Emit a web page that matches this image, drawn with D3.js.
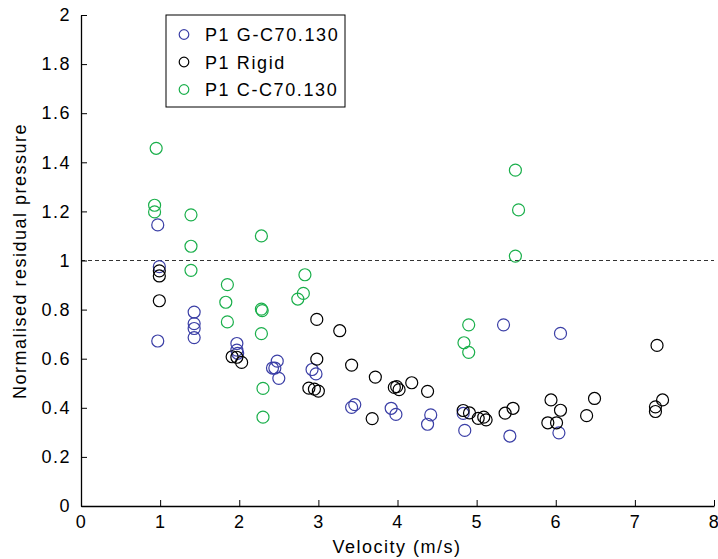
<!DOCTYPE html>
<html>
<head>
<meta charset="utf-8">
<script src="https://cdn.jsdelivr.net/npm/d3@7"></script>
<style>
  body { margin: 0; background: #fff; }
  svg { font-family: "Liberation Sans", Arial, sans-serif; }
</style>
</head>
<body>
<svg id="chart" width="718" height="559"></svg>
<script>
const seriesNames = ['P1 G-C70.130', 'P1 Rigid', 'P1 C-C70.130']
const seriesColors = ['#3b3fa6', '#000000', '#1aaf4b']

// velocity (m/s), normalised residual pressure
const gVel = [0.97, 0.99, 1.43, 1.43, 1.43, 1.43, 0.97, 1.97, 1.97, 1.98, 2.48, 2.42, 2.45, 2.50,
	2.92, 2.97, 3.42, 3.46, 3.92, 3.98, 4.42, 4.38, 4.83, 4.85, 5.34, 5.42, 6.06, 6.04]
const gPres = [1.145, 0.975, 0.79, 0.743, 0.723, 0.686, 0.672, 0.662, 0.635, 0.622, 0.590, 0.562, 0.562, 0.520,
	0.556, 0.538, 0.402, 0.413, 0.398, 0.373, 0.371, 0.333, 0.377, 0.308, 0.738, 0.285, 0.703, 0.298]

const rVel = [0.99, 0.99, 0.99, 2.98, 3.27, 2.98, 3.42, 1.91, 1.97, 2.03, 2.88, 2.95, 3.00,
	3.72, 3.68, 3.96, 3.99, 4.02, 4.18, 4.38, 4.83, 4.91, 5.02, 5.09, 5.12, 5.36, 5.46,
	5.94, 6.06, 5.90, 6.01, 6.49, 6.39, 7.28, 7.35, 7.26, 7.26]
const rPres = [0.958, 0.937, 0.836, 0.760, 0.714, 0.598, 0.574, 0.608, 0.606, 0.585, 0.480, 0.476, 0.468,
	0.525, 0.356, 0.483, 0.486, 0.474, 0.502, 0.467, 0.389, 0.379, 0.357, 0.362, 0.351, 0.378, 0.398,
	0.432, 0.390, 0.339, 0.339, 0.438, 0.368, 0.654, 0.432, 0.404, 0.385]

const cVel = [0.95, 0.93, 0.93, 1.39, 1.39, 2.28, 1.39, 2.83, 1.85, 2.81, 2.74, 1.83, 2.28, 2.29,
	1.85, 2.28, 2.30, 2.30, 4.90, 4.84, 4.90, 5.49, 5.53, 5.49]
const cPres = [1.457, 1.225, 1.198, 1.186, 1.058, 1.100, 0.960, 0.942, 0.902, 0.866, 0.843, 0.830, 0.802, 0.796,
	0.750, 0.702, 0.479, 0.362, 0.738, 0.665, 0.626, 1.368, 1.206, 1.018]

const xTicks = [0, 1, 2, 3, 4, 5, 6, 7, 8]
const yTicks = [0, 0.2, 0.4, 0.6, 0.8, 1, 1.2, 1.4, 1.6, 1.8, 2]

const series = [
	{ name: seriesNames[0], color: seriesColors[0], pts: gVel.map((v, i) => [v, gPres[i]]) },
	{ name: seriesNames[1], color: seriesColors[1], pts: rVel.map((v, i) => [v, rPres[i]]) },
	{ name: seriesNames[2], color: seriesColors[2], pts: cVel.map((v, i) => [v, cPres[i]]) }
]

const margin = { left: 81, right: 4, top: 15, bottom: 53 }
const width = 718, height = 559
const fontSize = 18, spacing = 1.5

const svg = d3.select('#chart')

const x = d3.scaleLinear().domain([0, 8]).range([margin.left, width - margin.right])
const y = d3.scaleLinear().domain([0, 2]).range([height - margin.bottom, margin.top])

// reference line at 1
svg.append('line')
	.attr('x1', x(0)).attr('x2', x(8))
	.attr('y1', y(1)).attr('y2', y(1))
	.attr('stroke', '#333')
	.attr('stroke-width', 1)
	.attr('stroke-dasharray', '4,3')

// points
series.forEach(s => {
	svg.append('g')
		.selectAll('circle')
		.data(s.pts)
		.enter()
		.append('circle')
		.attr('cx', d => x(d[0]))
		.attr('cy', d => y(d[1]))
		.attr('r', 6)
		.attr('fill', 'none')
		.attr('stroke', s.color)
		.attr('stroke-width', 1.2)
})

// axes
const xAxis = svg.append('g')
	.attr('transform', `translate(0,${y(0)})`)
	.call(d3.axisBottom(x).tickValues(xTicks).tickFormat(d3.format('d')).tickSizeInner(-6).tickSizeOuter(0).tickPadding(9))
const yAxis = svg.append('g')
	.attr('transform', `translate(${x(0)},0)`)
	.call(d3.axisLeft(y).tickValues(yTicks).tickFormat(d => d3.format('~g')(d)).tickSizeInner(-6).tickSizeOuter(0).tickPadding(10))

;[xAxis, yAxis].forEach(a => {
	a.selectAll('text')
		.attr('font-size', fontSize)
		.attr('letter-spacing', spacing)
		.attr('fill', '#000')
		.attr('font-family', '"Liberation Sans", Arial, sans-serif')
	a.select('.domain').attr('stroke', '#000').attr('stroke-width', 1.3)
	a.selectAll('.tick line').attr('stroke', '#000')
})

svg.append('text')
	.attr('x', 397)
	.attr('y', 553)
	.attr('text-anchor', 'middle')
	.attr('font-size', fontSize)
	.attr('letter-spacing', spacing)
	.text('Velocity (m/s)')

svg.append('text')
	.attr('transform', `translate(26,261) rotate(-90)`)
	.attr('text-anchor', 'middle')
	.attr('font-size', fontSize)
	.attr('letter-spacing', spacing)
	.text('Normalised residual pressure')

// legend
const lg = svg.append('g').attr('transform', 'translate(166,15)')
lg.append('rect')
	.attr('width', 179).attr('height', 92)
	.attr('fill', '#fff')
	.attr('stroke', '#000')
	.attr('stroke-width', 1)
series.forEach((s, i) => {
	const row = lg.append('g').attr('transform', `translate(0,${19.5 + i * 27.5})`)
	row.append('circle')
		.attr('cx', 18).attr('cy', 0).attr('r', 4.8)
		.attr('fill', 'none').attr('stroke', s.color).attr('stroke-width', 1.2)
	row.append('text')
		.attr('x', 39).attr('y', 6.5)
		.attr('font-size', fontSize)
		.attr('letter-spacing', 1.6)
		.text(s.name)
})
</script>
</body>
</html>
